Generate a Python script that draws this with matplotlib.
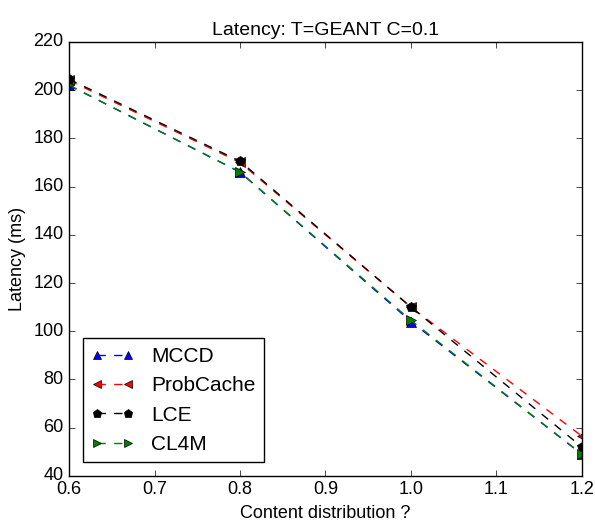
import matplotlib
matplotlib.use("Agg")
from matplotlib import pyplot as plt

plt.style.use("classic")
plt.rcParams['font.family'] = ['Liberation Sans', 'DejaVu Sans']

x = [0.6, 0.8, 1.0, 1.2]
mccd = [202, 166, 104, 49]
probcache = [204, 170, 110, 56.5]
lce = [204.5, 170.5, 110, 52]
cl4m = [202, 166, 104.5, 49]

fig = plt.figure(figsize=(5.95, 5.23), dpi=100)
ax = fig.add_axes([0.116, 0.090, 0.862, 0.830])

ax.plot(x, mccd, "b--", marker="^", markersize=7.5, label="MCCD")
ax.plot(x, probcache, "r--", marker="<", markersize=7.5, label="ProbCache")
ax.plot(x, lce, "k--", marker="p", markersize=7.5, label="LCE")
ax.plot(x, cl4m, "g--", marker=">", markersize=7.5, label="CL4M")

ax.set_xlim(0.6, 1.2)
ax.set_ylim(40, 220)
ax.set_title("Latency: T=GEANT C=0.1", fontsize=14)
ax.set_xlabel("Content distribution ?", fontsize=13)
ax.set_ylabel("Latency (ms)", fontsize=13)
ax.tick_params(labelsize=13)
ax.legend(loc="lower left", fontsize=15, markerscale=0.85, labelspacing=0.5,
          handlelength=2.1, handletextpad=0.8, borderaxespad=0.65)

fig.savefig("out.png", dpi=100)
